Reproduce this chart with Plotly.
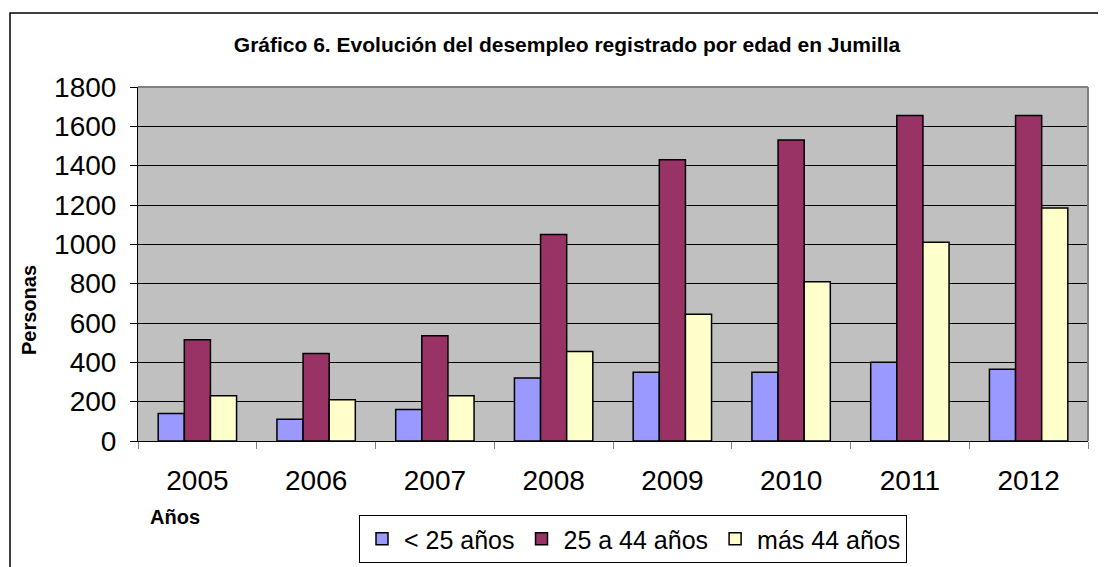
import plotly.graph_objects as go

years = ["2005", "2006", "2007", "2008", "2009", "2010", "2011", "2012"]
menores_25 = [140, 110, 160, 320, 350, 350, 400, 365]
de_25_a_44 = [515, 445, 535, 1050, 1430, 1530, 1655, 1655]
mas_44 = [230, 210, 230, 455, 645, 810, 1010, 1185]
series_names = ["< 25 años", "25 a 44 años", "más 44 años"]
colors = ["#9999FF", "#993366", "#FFFFCC"]

# page has an 8px body margin; figure coordinates = page coordinates - 8
OFF = 8
W, H = 1106 - OFF, 567 - OFF
L, R, T, B = 138 - OFF, 1106 - 1088, 87 - OFF, 567 - 441
pw, ph = W - L - R, H - T - B

def px_x(p):
    return (p - OFF - L) / pw

def px_y(p):
    return (H - B - (p - OFF)) / ph

def cont_y(p):
    return 1 - (p - OFF) / H

fig = go.Figure()
for name, vals, c in zip(series_names, [menores_25, de_25_a_44, mas_44], colors):
    fig.add_trace(go.Bar(x=years, y=vals, name=name,
                         marker=dict(color=c, line=dict(color="black", width=1.5))))

font = "Liberation Sans, Arial, sans-serif"
fig.update_layout(
    width=W, height=H,
    margin=dict(l=L, r=R, t=T, b=B, autoexpand=False),
    paper_bgcolor="white",
    plot_bgcolor="#C0C0C0",
    barmode="group",
    bargap=0.34,
    bargroupgap=0,
    font=dict(family=font, color="black"),
    title=dict(text="<b>Gráfico 6. Evolución del desempleo registrado por edad en Jumilla</b>",
               x=px_x(567), xref="paper", xanchor="center",
               y=cont_y(45), yref="container", yanchor="middle",
               font=dict(size=21, family=font)),
    showlegend=True,
    legend=dict(orientation="h", x=px_x(633), xanchor="center",
                y=cont_y(515), yref="container", yanchor="top",
                bordercolor="black", borderwidth=1, bgcolor="white",
                font=dict(size=25, family=font), itemwidth=34,
                tracegroupgap=0),
    xaxis=dict(type="category", tickson="boundaries", ticks="outside", ticklen=7,
               tickcolor="#808080", tickfont=dict(size=28), showline=True,
               linecolor="black", linewidth=1, showgrid=False,
               ticklabelstandoff=14, automargin=False),
    yaxis=dict(range=[0, 1800], dtick=200, ticks="outside", ticklen=7,
               tickcolor="black", tickfont=dict(size=28), showline=True,
               linecolor="black", linewidth=1, gridcolor="#000000", gridwidth=1,
               zeroline=False, ticklabelstandoff=8, automargin=False),
    annotations=[
        dict(text="<b>Personas</b>", x=px_x(29), y=px_y(310), xref="paper", yref="paper",
             textangle=-90, showarrow=False, font=dict(size=20, family=font),
             xanchor="center", yanchor="middle"),
        dict(text="<b>Años</b>", x=px_x(175), y=px_y(517), xref="paper", yref="paper",
             showarrow=False, font=dict(size=20, family=font),
             xanchor="center", yanchor="middle"),
    ],
    shapes=[
        dict(type="rect", xref="paper", yref="paper", x0=px_x(10), x1=px_x(1130),
             y0=px_y(600), y1=px_y(13), line=dict(color="black", width=1.5),
             fillcolor="rgba(0,0,0,0)", layer="below"),
        dict(type="line", xref="paper", yref="paper", x0=0, x1=1, y0=1, y1=1,
             line=dict(color="#808080", width=2)),
        dict(type="line", xref="paper", yref="paper", x0=1, x1=1, y0=0, y1=1,
             line=dict(color="#808080", width=2)),
    ],
)

fig.write_html("out.html")
